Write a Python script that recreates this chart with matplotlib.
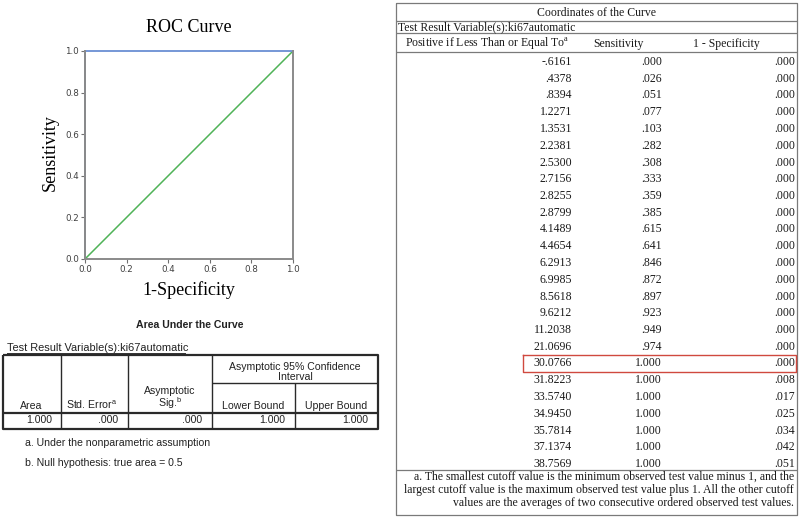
import matplotlib
matplotlib.use("Agg")
import matplotlib.pyplot as plt

plt.rcParams['mathtext.fontset'] = 'custom'
plt.rcParams['mathtext.rm'] = 'Liberation Serif'
plt.rcParams['mathtext.sf'] = 'Liberation Sans'

# ---------------- data ----------------
roc_fpr = [0.0, 0.0, 1.0]          # 1 - specificity of the ROC curve
roc_tpr = [0.0, 1.0, 1.0]          # sensitivity of the ROC curve
ref_fpr = [0.0, 1.0]               # reference (chance) line
ref_tpr = [0.0, 1.0]
roc_ticks = [0.0, 0.2, 0.4, 0.6, 0.8, 1.0]

auc_area = 1.000
auc_std_error = 0.000
auc_sig = 0.000
auc_lower = 1.000
auc_upper = 1.000

cutoffs = [-0.6161, 0.4378, 0.8394, 1.2271, 1.3531, 2.2381, 2.5300, 2.7156,
           2.8255, 2.8799, 4.1489, 4.4654, 6.2913, 6.9985, 8.5618, 9.6212,
           11.2038, 21.0696, 30.0766, 31.8223, 33.5740, 34.9450, 35.7814,
           37.1374, 38.7569]
sensitivity = [0.000, 0.026, 0.051, 0.077, 0.103, 0.282, 0.308, 0.333,
               0.359, 0.385, 0.615, 0.641, 0.846, 0.872, 0.897, 0.923,
               0.949, 0.974, 1.000, 1.000, 1.000, 1.000, 1.000, 1.000, 1.000]
one_minus_spec = [0.000, 0.000, 0.000, 0.000, 0.000, 0.000, 0.000, 0.000,
                  0.000, 0.000, 0.000, 0.000, 0.000, 0.000, 0.000, 0.000,
                  0.000, 0.000, 0.000, 0.008, 0.017, 0.025, 0.034, 0.042, 0.051]
highlight_cutoff = 30.0766

right_footnote = [
    "a. The smallest cutoff value is the minimum observed test value minus 1, and the",
    "largest cutoff value is the maximum observed test value plus 1. All the other cutoff",
    "values are the averages of two consecutive ordered observed test values.",
]


def spss(v, nd):
    s = f"{v:.{nd}f}"
    if s.startswith("0."):
        s = s[1:]
    elif s.startswith("-0."):
        s = "-" + s[2:]
    return s


W, H = 800, 521
fig = plt.figure(figsize=(W / 100, H / 100), dpi=100)
fig.patch.set_facecolor("white")

# ---------------- ROC plot ----------------
L, R, T, B = 85, 293, 51, 259
ax = fig.add_axes([L / W, 1 - B / H, (R - L) / W, (B - T) / H])
ax.plot(ref_fpr, ref_tpr, color="#4fb357", lw=1.1, zorder=2)
ax.plot(roc_fpr, roc_tpr, color="#6a8fd3", lw=1.3, zorder=2.2, clip_on=False)
ax.set_xlim(0, 1)
ax.set_ylim(0, 1)
ax.set_xticks(roc_ticks)
ax.set_yticks(roc_ticks)
ax.set_xticklabels([f"{t:.1f}" for t in roc_ticks])
ax.set_yticklabels([f"{t:.1f}" for t in roc_ticks])
ax.tick_params(direction="out", length=3, width=0.8, color="#707070",
               labelsize=6.3, labelcolor="#404040", pad=1.5)
for name, sp in ax.spines.items():
    sp.set_color("#8a8a8a")
    sp.set_linewidth(1.4)
ax.spines["top"].set_visible(False)
serif = "Liberation Serif"
ax.set_xlabel("1-Specificity", fontsize=13, family=serif, va="center")
ax.xaxis.set_label_coords(0.5, (B - 290) / (B - T))
ax.set_ylabel("Sensitivity", fontsize=13, family=serif, va="center")
ax.yaxis.set_label_coords((50 - L) / (R - L), (B - 153) / (B - T))
ax.text(0.5, (B - 27) / (B - T), "ROC Curve", transform=ax.transAxes,
        fontsize=13, family=serif, ha="center", va="center")

# ---------------- overlay in pixel coordinates ----------------
ov = fig.add_axes([0, 0, 1, 1])
ov.set_xlim(0, W)
ov.set_ylim(H, 0)
ov.axis("off")

sans = "Liberation Sans"
tc = "#222222"
fs_l = 7.6

# left table
ov.text(190, 325, "Area Under the Curve", family=sans, fontsize=7.6,
        fontweight="bold", ha="center", va="center", color=tc)
ov.text(7, 348, "Test Result Variable(s):ki67automatic", family=sans,
        fontsize=7.9, ha="left", va="center", color=tc)
ov.plot([7, 185], [353, 353], color="#333333", lw=0.7)

lk = dict(color="#2a2a2a", solid_capstyle="butt")
xl0, xl1, yt0, yb = 3, 378, 355, 429
ov.plot([xl0, xl1, xl1, xl0, xl0], [yt0, yt0, yb, yb, yt0], lw=1.6, **lk)
for x in [61, 128, 212]:
    ov.plot([x, x], [yt0, yb], lw=1.0, **lk)
ov.plot([295, 295], [383, yb], lw=1.0, **lk)
ov.plot([212, xl1], [383, 383], lw=1.0, **lk)
ov.plot([xl0, xl1], [413, 413], lw=1.6, **lk)

hb = 409
ov.text(31, hb, "Area", family=sans, fontsize=fs_l, ha="center", va="baseline", color=tc)
ov.text(92, hb, r"Std. Error$^{\mathsf{a}}$", family=sans, fontsize=fs_l,
        ha="center", va="baseline", color=tc)
ov.text(170, 391, "Asymptotic", family=sans, fontsize=fs_l, ha="center", va="center", color=tc)
ov.text(170, 403.5, r"Sig.$^{\mathsf{b}}$", family=sans, fontsize=fs_l, ha="center",
        va="center", color=tc)
ov.text(295, 366.5, "Asymptotic 95% Confidence", family=sans, fontsize=fs_l,
        ha="center", va="center", color=tc)
ov.text(295, 377, "Interval", family=sans, fontsize=fs_l, ha="center", va="center", color=tc)
ov.text(253, hb, "Lower Bound", family=sans, fontsize=fs_l, ha="center", va="baseline", color=tc)
ov.text(336, hb, "Upper Bound", family=sans, fontsize=fs_l, ha="center", va="baseline", color=tc)

auc_vals = [auc_area, auc_std_error, auc_sig, auc_lower, auc_upper]
auc_right = [52, 118, 202, 285, 368]
for v, xr in zip(auc_vals, auc_right):
    ov.text(xr, 420, spss(v, 3), family=sans, fontsize=fs_l, ha="right",
            va="center", color=tc)

ov.text(25, 443, "a. Under the nonparametric assumption", family=sans,
        fontsize=fs_l, ha="left", va="center", color=tc)
ov.text(25, 463, "b. Null hypothesis: true area = 0.5", family=sans,
        fontsize=fs_l, ha="left", va="center", color=tc)

# right table
rl, rr, rt, rb = 396, 797, 3, 515
gk = dict(color="#7a7a7a", lw=0.9, solid_capstyle="butt")
ov.plot([rl, rr, rr, rl, rl], [rt, rt, rb, rb, rt], **gk)
for y in [21, 33, 52, 470]:
    ov.plot([rl, rr], [y, y], **gk)

fs_r = 8.5
rc = "#1a1a1a"
ov.text((rl + rr) / 2, 12.5, "Coordinates of the Curve", family=serif,
        fontsize=fs_r, ha="center", va="center", color=rc)
ov.text(398, 27.5, "Test Result Variable(s):ki67automatic", family=serif,
        fontsize=fs_r, ha="left", va="center", color=rc)
ov.text(405, 43.5, r"Positive if Less Than or Equal To$^{\mathrm{a}}$", family=serif,
        fontsize=fs_r, ha="left", va="center", color=rc)
ov.text(618, 43.5, "Sensitivity", family=serif, fontsize=fs_r, ha="center",
        va="center", color=rc)
ov.text(726, 43.5, "1 - Specificity", family=serif, fontsize=fs_r, ha="center",
        va="center", color=rc)

row0, dy = 62, 16.75
for i, (c, s, f) in enumerate(zip(cutoffs, sensitivity, one_minus_spec)):
    y = row0 + i * dy
    ov.text(572, y, spss(c, 4), family=serif, fontsize=fs_r, ha="right",
            va="center", color=rc)
    ov.text(662, y, spss(s, 3), family=serif, fontsize=fs_r, ha="right",
            va="center", color=rc)
    ov.text(795, y, spss(f, 3), family=serif, fontsize=fs_r, ha="right",
            va="center", color=rc)
    if c == highlight_cutoff:
        ov.plot([523, 796, 796, 523, 523],
                [y - 8.5, y - 8.5, y + 8.5, y + 8.5, y - 8.5],
                color="#d0493f", lw=1.0)

for k, line in enumerate(right_footnote):
    ov.text(794, 477 + k * 13, line, family=serif, fontsize=fs_r, ha="right",
            va="center", color=rc)

fig.savefig("out.png", dpi=100, facecolor="white")
